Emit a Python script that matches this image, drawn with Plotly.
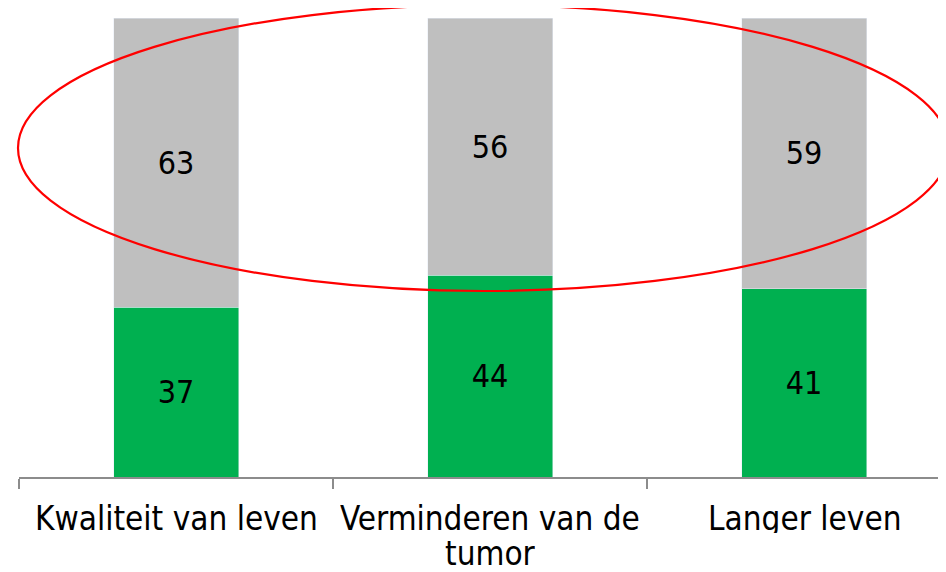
import plotly.graph_objects as go

categories = ["Kwaliteit van leven", "Verminderen van de tumor", "Langer leven"]
label_line1 = ["Kwaliteit van leven", "Verminderen van de", "Langer leven"]
label_line2 = ["", "tumor", ""]
green_values = [37, 44, 41]
gray_values = [63, 56, 59]

FONT = "DejaVu Sans Condensed, DejaVu Sans, sans-serif"

fig = go.Figure()
fig.add_trace(go.Bar(
    x=categories, y=green_values, marker_color="#00B050",
    text=green_values, textposition="inside", insidetextanchor="middle",
    textfont=dict(size=32, color="black", family=FONT), width=0.398,
    showlegend=False, hoverinfo="skip",
))
fig.add_trace(go.Bar(
    x=categories, y=gray_values, marker_color="#BFBFBF",
    text=gray_values, textposition="inside", insidetextanchor="middle",
    textfont=dict(size=32, color="black", family=FONT), width=0.398,
    showlegend=False, hoverinfo="skip",
))

# page has an 8px body margin, so the figure is drawn 8px smaller and offset
fig.update_layout(
    barmode="stack",
    width=938, height=564,
    margin=dict(l=11, r=0, t=10, b=95, autoexpand=False),
    paper_bgcolor="white", plot_bgcolor="white",
    font=dict(family=FONT, size=32, color="black"),
    uniformtext=dict(mode=False),
)
fig.update_xaxes(
    range=[-0.5, 2.452], showline=True, linecolor="#8C8C8C", linewidth=1.5,
    ticks="outside", tickson="boundaries", ticklen=10, tickcolor="#8C8C8C",
    tickwidth=1.5, showgrid=False, showticklabels=False, automargin=False,
    fixedrange=True,
)
fig.update_yaxes(range=[0, 100], visible=False, showgrid=False,
                 automargin=False, fixedrange=True)


def px_x(p):
    return (p - 19) / 927.0


def px_y(p):
    return (477 - p) / 459.0


# category labels
for cat, l1, l2 in zip(categories, label_line1, label_line2):
    fig.add_annotation(x=cat, xref="x", y=px_y(518), yref="paper",
                       text=l1, showarrow=False, yanchor="middle", height=30,
                       font=dict(size=33, family=FONT, color="black"))
    if l2:
        fig.add_annotation(x=cat, xref="x", y=px_y(553), yref="paper",
                           text=l2, showarrow=False, yanchor="middle", height=30,
                           font=dict(size=33, family=FONT, color="black"))

# highlighting ellipse
fig.add_shape(
    type="circle", xref="paper", yref="paper",
    x0=px_x(18), x1=px_x(949), y0=px_y(291), y1=px_y(5),
    line=dict(color="#FF0000", width=2.2), layer="above",
)

fig.write_html("out.html")
